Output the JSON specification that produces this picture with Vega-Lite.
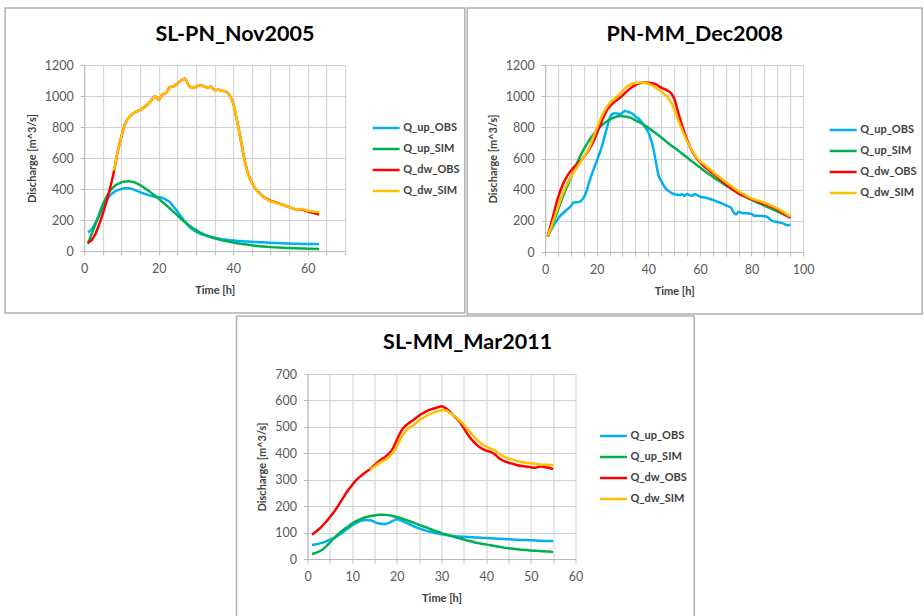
{
  "$schema": "https://vega.github.io/schema/vega-lite/v6.json",
  "background": "white",
  "padding": {"left": 4, "top": 7, "right": 0, "bottom": 0},
  "autosize": {"type": "pad"},
  "config": {
    "font": "Lato",
    "view": {"stroke": null},
    "axis": {"gridColor": "#d0d0d0", "gridWidth": 1, "domainColor": "#b8b8b8", "domainWidth": 1, "tickColor": "#b8b8b8", "tickSize": 4, "labelFont": "Lato", "labelFontSize": 12.5, "labelColor": "#595959", "titleFont": "Lato", "titleFontSize": 11, "titleFontWeight": "bold", "titleColor": "#404040", "labelOverlap": false},
    "axisX": {"labelPadding": 7, "titlePadding": 10, "labelFlush": false},
    "axisY": {"labelPadding": 7, "titlePadding": 7},
    "legend": {"orient": "none", "title": null, "padding": 0, "symbolType": "stroke", "symbolStrokeWidth": 2.5, "symbolSize": 729, "labelFont": "Lato", "labelFontSize": 11, "labelFontWeight": "bold", "labelColor": "#404040", "labelOffset": 2, "rowPadding": 1},
    "title": {"font": "Lato", "fontSize": 21.5, "fontWeight": "bold", "color": "#000000", "anchor": "middle", "frame": "bounds", "offset": -38},
    "line": {"strokeWidth": 2.5, "interpolate": "monotone"}
  },
  "datasets": {
    "p1": [
      {"s":"Q_up_OBS","t":1,"q":120},{"s":"Q_up_OBS","t":2,"q":140},{"s":"Q_up_OBS","t":3,"q":180},{"s":"Q_up_OBS","t":4,"q":225},{"s":"Q_up_OBS","t":5,"q":280},{"s":"Q_up_OBS","t":6,"q":325},{"s":"Q_up_OBS","t":7,"q":360},{"s":"Q_up_OBS","t":8,"q":380},{"s":"Q_up_OBS","t":9,"q":393},{"s":"Q_up_OBS","t":10,"q":400},{"s":"Q_up_OBS","t":11,"q":405},{"s":"Q_up_OBS","t":12,"q":405},{"s":"Q_up_OBS","t":13,"q":398},{"s":"Q_up_OBS","t":14,"q":390},{"s":"Q_up_OBS","t":15,"q":380},{"s":"Q_up_OBS","t":16,"q":370},{"s":"Q_up_OBS","t":17,"q":363},{"s":"Q_up_OBS","t":18,"q":356},{"s":"Q_up_OBS","t":19,"q":350},{"s":"Q_up_OBS","t":20,"q":347},{"s":"Q_up_OBS","t":21,"q":342},{"s":"Q_up_OBS","t":22,"q":330},{"s":"Q_up_OBS","t":23,"q":315},{"s":"Q_up_OBS","t":24,"q":285},{"s":"Q_up_OBS","t":25,"q":255},{"s":"Q_up_OBS","t":26,"q":222},{"s":"Q_up_OBS","t":27,"q":190},{"s":"Q_up_OBS","t":28,"q":162},{"s":"Q_up_OBS","t":29,"q":140},{"s":"Q_up_OBS","t":30,"q":124},{"s":"Q_up_OBS","t":31,"q":113},{"s":"Q_up_OBS","t":32,"q":104},{"s":"Q_up_OBS","t":33,"q":97},{"s":"Q_up_OBS","t":34,"q":90},{"s":"Q_up_OBS","t":35,"q":85},{"s":"Q_up_OBS","t":36,"q":80},{"s":"Q_up_OBS","t":37,"q":76},{"s":"Q_up_OBS","t":38,"q":73},{"s":"Q_up_OBS","t":39,"q":70},{"s":"Q_up_OBS","t":40,"q":68},{"s":"Q_up_OBS","t":42,"q":64},{"s":"Q_up_OBS","t":44,"q":61},{"s":"Q_up_OBS","t":46,"q":58},{"s":"Q_up_OBS","t":48,"q":56},{"s":"Q_up_OBS","t":50,"q":53},{"s":"Q_up_OBS","t":52,"q":51},{"s":"Q_up_OBS","t":54,"q":49},{"s":"Q_up_OBS","t":56,"q":47},{"s":"Q_up_OBS","t":58,"q":46},{"s":"Q_up_OBS","t":60,"q":45},{"s":"Q_up_OBS","t":63,"q":44},
      {"s":"Q_up_SIM","t":1,"q":45},{"s":"Q_up_SIM","t":2,"q":110},{"s":"Q_up_SIM","t":3,"q":170},{"s":"Q_up_SIM","t":4,"q":235},{"s":"Q_up_SIM","t":5,"q":300},{"s":"Q_up_SIM","t":6,"q":350},{"s":"Q_up_SIM","t":7,"q":390},{"s":"Q_up_SIM","t":8,"q":415},{"s":"Q_up_SIM","t":9,"q":432},{"s":"Q_up_SIM","t":10,"q":443},{"s":"Q_up_SIM","t":11,"q":448},{"s":"Q_up_SIM","t":12,"q":450},{"s":"Q_up_SIM","t":13,"q":446},{"s":"Q_up_SIM","t":14,"q":438},{"s":"Q_up_SIM","t":15,"q":425},{"s":"Q_up_SIM","t":16,"q":410},{"s":"Q_up_SIM","t":17,"q":393},{"s":"Q_up_SIM","t":18,"q":375},{"s":"Q_up_SIM","t":19,"q":356},{"s":"Q_up_SIM","t":20,"q":337},{"s":"Q_up_SIM","t":21,"q":316},{"s":"Q_up_SIM","t":22,"q":295},{"s":"Q_up_SIM","t":23,"q":274},{"s":"Q_up_SIM","t":24,"q":252},{"s":"Q_up_SIM","t":25,"q":230},{"s":"Q_up_SIM","t":26,"q":208},{"s":"Q_up_SIM","t":27,"q":187},{"s":"Q_up_SIM","t":28,"q":167},{"s":"Q_up_SIM","t":29,"q":150},{"s":"Q_up_SIM","t":30,"q":135},{"s":"Q_up_SIM","t":31,"q":121},{"s":"Q_up_SIM","t":32,"q":109},{"s":"Q_up_SIM","t":33,"q":99},{"s":"Q_up_SIM","t":34,"q":90},{"s":"Q_up_SIM","t":35,"q":82},{"s":"Q_up_SIM","t":36,"q":75},{"s":"Q_up_SIM","t":37,"q":69},{"s":"Q_up_SIM","t":38,"q":64},{"s":"Q_up_SIM","t":39,"q":59},{"s":"Q_up_SIM","t":40,"q":55},{"s":"Q_up_SIM","t":42,"q":47},{"s":"Q_up_SIM","t":44,"q":40},{"s":"Q_up_SIM","t":46,"q":34},{"s":"Q_up_SIM","t":48,"q":29},{"s":"Q_up_SIM","t":50,"q":25},{"s":"Q_up_SIM","t":52,"q":22},{"s":"Q_up_SIM","t":54,"q":20},{"s":"Q_up_SIM","t":56,"q":18},{"s":"Q_up_SIM","t":58,"q":16},{"s":"Q_up_SIM","t":60,"q":15},{"s":"Q_up_SIM","t":63,"q":13},
      {"s":"Q_dw_OBS","t":1,"q":55},{"s":"Q_dw_OBS","t":2,"q":70},{"s":"Q_dw_OBS","t":3,"q":110},{"s":"Q_dw_OBS","t":4,"q":170},{"s":"Q_dw_OBS","t":5,"q":240},{"s":"Q_dw_OBS","t":6,"q":320},{"s":"Q_dw_OBS","t":7,"q":410},{"s":"Q_dw_OBS","t":8,"q":515},{"s":"Q_dw_OBS","t":9,"q":640},{"s":"Q_dw_OBS","t":10,"q":740},{"s":"Q_dw_OBS","t":11,"q":822},{"s":"Q_dw_OBS","t":12,"q":862},{"s":"Q_dw_OBS","t":13,"q":885},{"s":"Q_dw_OBS","t":14,"q":900},{"s":"Q_dw_OBS","t":15,"q":910},{"s":"Q_dw_OBS","t":16,"q":925},{"s":"Q_dw_OBS","t":17,"q":945},{"s":"Q_dw_OBS","t":18,"q":970},{"s":"Q_dw_OBS","t":19,"q":1000},{"s":"Q_dw_OBS","t":20,"q":975},{"s":"Q_dw_OBS","t":21,"q":1010},{"s":"Q_dw_OBS","t":22,"q":1020},{"s":"Q_dw_OBS","t":23,"q":1058},{"s":"Q_dw_OBS","t":24,"q":1062},{"s":"Q_dw_OBS","t":25,"q":1080},{"s":"Q_dw_OBS","t":26,"q":1100},{"s":"Q_dw_OBS","t":27,"q":1112},{"s":"Q_dw_OBS","t":28,"q":1070},{"s":"Q_dw_OBS","t":29,"q":1052},{"s":"Q_dw_OBS","t":30,"q":1060},{"s":"Q_dw_OBS","t":31,"q":1068},{"s":"Q_dw_OBS","t":32,"q":1065},{"s":"Q_dw_OBS","t":33,"q":1055},{"s":"Q_dw_OBS","t":34,"q":1060},{"s":"Q_dw_OBS","t":35,"q":1038},{"s":"Q_dw_OBS","t":36,"q":1040},{"s":"Q_dw_OBS","t":37,"q":1033},{"s":"Q_dw_OBS","t":38,"q":1030},{"s":"Q_dw_OBS","t":39,"q":1005},{"s":"Q_dw_OBS","t":40,"q":950},{"s":"Q_dw_OBS","t":41,"q":840},{"s":"Q_dw_OBS","t":42,"q":720},{"s":"Q_dw_OBS","t":43,"q":590},{"s":"Q_dw_OBS","t":44,"q":495},{"s":"Q_dw_OBS","t":45,"q":440},{"s":"Q_dw_OBS","t":46,"q":400},{"s":"Q_dw_OBS","t":47,"q":374},{"s":"Q_dw_OBS","t":48,"q":352},{"s":"Q_dw_OBS","t":49,"q":336},{"s":"Q_dw_OBS","t":50,"q":324},{"s":"Q_dw_OBS","t":51,"q":316},{"s":"Q_dw_OBS","t":52,"q":308},{"s":"Q_dw_OBS","t":53,"q":300},{"s":"Q_dw_OBS","t":54,"q":292},{"s":"Q_dw_OBS","t":55,"q":284},{"s":"Q_dw_OBS","t":56,"q":275},{"s":"Q_dw_OBS","t":57,"q":265},{"s":"Q_dw_OBS","t":58,"q":270},{"s":"Q_dw_OBS","t":59,"q":264},{"s":"Q_dw_OBS","t":60,"q":255},{"s":"Q_dw_OBS","t":61,"q":248},{"s":"Q_dw_OBS","t":62,"q":242},{"s":"Q_dw_OBS","t":63,"q":236},
      {"s":"Q_dw_SIM","t":8,"q":520},{"s":"Q_dw_SIM","t":9,"q":640},{"s":"Q_dw_SIM","t":10,"q":740},{"s":"Q_dw_SIM","t":11,"q":820},{"s":"Q_dw_SIM","t":12,"q":860},{"s":"Q_dw_SIM","t":13,"q":885},{"s":"Q_dw_SIM","t":14,"q":900},{"s":"Q_dw_SIM","t":15,"q":910},{"s":"Q_dw_SIM","t":16,"q":925},{"s":"Q_dw_SIM","t":17,"q":945},{"s":"Q_dw_SIM","t":18,"q":970},{"s":"Q_dw_SIM","t":19,"q":1000},{"s":"Q_dw_SIM","t":20,"q":975},{"s":"Q_dw_SIM","t":21,"q":1010},{"s":"Q_dw_SIM","t":22,"q":1020},{"s":"Q_dw_SIM","t":23,"q":1058},{"s":"Q_dw_SIM","t":24,"q":1062},{"s":"Q_dw_SIM","t":25,"q":1080},{"s":"Q_dw_SIM","t":26,"q":1100},{"s":"Q_dw_SIM","t":27,"q":1112},{"s":"Q_dw_SIM","t":28,"q":1070},{"s":"Q_dw_SIM","t":29,"q":1052},{"s":"Q_dw_SIM","t":30,"q":1060},{"s":"Q_dw_SIM","t":31,"q":1068},{"s":"Q_dw_SIM","t":32,"q":1065},{"s":"Q_dw_SIM","t":33,"q":1055},{"s":"Q_dw_SIM","t":34,"q":1060},{"s":"Q_dw_SIM","t":35,"q":1038},{"s":"Q_dw_SIM","t":36,"q":1040},{"s":"Q_dw_SIM","t":37,"q":1033},{"s":"Q_dw_SIM","t":38,"q":1030},{"s":"Q_dw_SIM","t":39,"q":1005},{"s":"Q_dw_SIM","t":40,"q":950},{"s":"Q_dw_SIM","t":41,"q":840},{"s":"Q_dw_SIM","t":42,"q":720},{"s":"Q_dw_SIM","t":43,"q":590},{"s":"Q_dw_SIM","t":44,"q":495},{"s":"Q_dw_SIM","t":45,"q":440},{"s":"Q_dw_SIM","t":46,"q":400},{"s":"Q_dw_SIM","t":47,"q":372},{"s":"Q_dw_SIM","t":48,"q":350},{"s":"Q_dw_SIM","t":49,"q":333},{"s":"Q_dw_SIM","t":50,"q":320},{"s":"Q_dw_SIM","t":51,"q":313},{"s":"Q_dw_SIM","t":52,"q":305},{"s":"Q_dw_SIM","t":53,"q":298},{"s":"Q_dw_SIM","t":54,"q":292},{"s":"Q_dw_SIM","t":55,"q":284},{"s":"Q_dw_SIM","t":56,"q":275},{"s":"Q_dw_SIM","t":57,"q":265},{"s":"Q_dw_SIM","t":58,"q":272},{"s":"Q_dw_SIM","t":59,"q":268},{"s":"Q_dw_SIM","t":60,"q":260},{"s":"Q_dw_SIM","t":61,"q":256},{"s":"Q_dw_SIM","t":62,"q":253},{"s":"Q_dw_SIM","t":63,"q":250}
    ],
    "p2": [
      {"s":"Q_up_OBS","t":1,"q":100},{"s":"Q_up_OBS","t":2,"q":135},{"s":"Q_up_OBS","t":4,"q":190},{"s":"Q_up_OBS","t":6,"q":235},{"s":"Q_up_OBS","t":8,"q":265},{"s":"Q_up_OBS","t":10,"q":295},{"s":"Q_up_OBS","t":11,"q":317},{"s":"Q_up_OBS","t":13,"q":320},{"s":"Q_up_OBS","t":14,"q":330},{"s":"Q_up_OBS","t":15,"q":350},{"s":"Q_up_OBS","t":16,"q":390},{"s":"Q_up_OBS","t":17,"q":445},{"s":"Q_up_OBS","t":18,"q":495},{"s":"Q_up_OBS","t":19,"q":540},{"s":"Q_up_OBS","t":20,"q":585},{"s":"Q_up_OBS","t":21,"q":630},{"s":"Q_up_OBS","t":22,"q":680},{"s":"Q_up_OBS","t":23,"q":740},{"s":"Q_up_OBS","t":24,"q":800},{"s":"Q_up_OBS","t":25,"q":860},{"s":"Q_up_OBS","t":26,"q":885},{"s":"Q_up_OBS","t":27,"q":890},{"s":"Q_up_OBS","t":28,"q":888},{"s":"Q_up_OBS","t":29,"q":885},{"s":"Q_up_OBS","t":30,"q":895},{"s":"Q_up_OBS","t":31,"q":905},{"s":"Q_up_OBS","t":32,"q":900},{"s":"Q_up_OBS","t":33,"q":895},{"s":"Q_up_OBS","t":34,"q":885},{"s":"Q_up_OBS","t":35,"q":870},{"s":"Q_up_OBS","t":36,"q":858},{"s":"Q_up_OBS","t":37,"q":842},{"s":"Q_up_OBS","t":38,"q":820},{"s":"Q_up_OBS","t":39,"q":795},{"s":"Q_up_OBS","t":40,"q":768},{"s":"Q_up_OBS","t":41,"q":720},{"s":"Q_up_OBS","t":42,"q":660},{"s":"Q_up_OBS","t":43,"q":570},{"s":"Q_up_OBS","t":44,"q":490},{"s":"Q_up_OBS","t":45,"q":455},{"s":"Q_up_OBS","t":46,"q":425},{"s":"Q_up_OBS","t":47,"q":402},{"s":"Q_up_OBS","t":48,"q":390},{"s":"Q_up_OBS","t":49,"q":378},{"s":"Q_up_OBS","t":50,"q":372},{"s":"Q_up_OBS","t":51,"q":368},{"s":"Q_up_OBS","t":52,"q":365},{"s":"Q_up_OBS","t":53,"q":370},{"s":"Q_up_OBS","t":54,"q":360},{"s":"Q_up_OBS","t":55,"q":372},{"s":"Q_up_OBS","t":56,"q":365},{"s":"Q_up_OBS","t":57,"q":360},{"s":"Q_up_OBS","t":58,"q":372},{"s":"Q_up_OBS","t":59,"q":365},{"s":"Q_up_OBS","t":60,"q":355},{"s":"Q_up_OBS","t":62,"q":350},{"s":"Q_up_OBS","t":64,"q":340},{"s":"Q_up_OBS","t":66,"q":328},{"s":"Q_up_OBS","t":68,"q":315},{"s":"Q_up_OBS","t":70,"q":300},{"s":"Q_up_OBS","t":72,"q":285},{"s":"Q_up_OBS","t":73,"q":255},{"s":"Q_up_OBS","t":74,"q":240},{"s":"Q_up_OBS","t":75,"q":258},{"s":"Q_up_OBS","t":76,"q":252},{"s":"Q_up_OBS","t":78,"q":248},{"s":"Q_up_OBS","t":80,"q":245},{"s":"Q_up_OBS","t":81,"q":232},{"s":"Q_up_OBS","t":83,"q":233},{"s":"Q_up_OBS","t":85,"q":230},{"s":"Q_up_OBS","t":86,"q":225},{"s":"Q_up_OBS","t":88,"q":200},{"s":"Q_up_OBS","t":90,"q":192},{"s":"Q_up_OBS","t":92,"q":185},{"s":"Q_up_OBS","t":94,"q":172},{"s":"Q_up_OBS","t":95,"q":175},
      {"s":"Q_up_SIM","t":1,"q":97},{"s":"Q_up_SIM","t":3,"q":180},{"s":"Q_up_SIM","t":5,"q":270},{"s":"Q_up_SIM","t":7,"q":360},{"s":"Q_up_SIM","t":9,"q":440},{"s":"Q_up_SIM","t":11,"q":520},{"s":"Q_up_SIM","t":13,"q":595},{"s":"Q_up_SIM","t":15,"q":660},{"s":"Q_up_SIM","t":17,"q":715},{"s":"Q_up_SIM","t":19,"q":760},{"s":"Q_up_SIM","t":21,"q":798},{"s":"Q_up_SIM","t":23,"q":828},{"s":"Q_up_SIM","t":25,"q":850},{"s":"Q_up_SIM","t":27,"q":865},{"s":"Q_up_SIM","t":29,"q":872},{"s":"Q_up_SIM","t":31,"q":870},{"s":"Q_up_SIM","t":33,"q":862},{"s":"Q_up_SIM","t":35,"q":845},{"s":"Q_up_SIM","t":37,"q":828},{"s":"Q_up_SIM","t":39,"q":808},{"s":"Q_up_SIM","t":41,"q":785},{"s":"Q_up_SIM","t":43,"q":760},{"s":"Q_up_SIM","t":45,"q":735},{"s":"Q_up_SIM","t":47,"q":708},{"s":"Q_up_SIM","t":49,"q":682},{"s":"Q_up_SIM","t":51,"q":658},{"s":"Q_up_SIM","t":53,"q":632},{"s":"Q_up_SIM","t":55,"q":606},{"s":"Q_up_SIM","t":57,"q":580},{"s":"Q_up_SIM","t":59,"q":555},{"s":"Q_up_SIM","t":61,"q":530},{"s":"Q_up_SIM","t":63,"q":506},{"s":"Q_up_SIM","t":65,"q":483},{"s":"Q_up_SIM","t":67,"q":460},{"s":"Q_up_SIM","t":69,"q":438},{"s":"Q_up_SIM","t":71,"q":417},{"s":"Q_up_SIM","t":73,"q":397},{"s":"Q_up_SIM","t":75,"q":378},{"s":"Q_up_SIM","t":77,"q":360},{"s":"Q_up_SIM","t":79,"q":343},{"s":"Q_up_SIM","t":81,"q":327},{"s":"Q_up_SIM","t":83,"q":312},{"s":"Q_up_SIM","t":85,"q":298},{"s":"Q_up_SIM","t":87,"q":283},{"s":"Q_up_SIM","t":89,"q":268},{"s":"Q_up_SIM","t":91,"q":252},{"s":"Q_up_SIM","t":93,"q":236},{"s":"Q_up_SIM","t":95,"q":220},
      {"s":"Q_dw_OBS","t":1,"q":100},{"s":"Q_dw_OBS","t":3,"q":225},{"s":"Q_dw_OBS","t":5,"q":350},{"s":"Q_dw_OBS","t":7,"q":440},{"s":"Q_dw_OBS","t":9,"q":500},{"s":"Q_dw_OBS","t":11,"q":541},{"s":"Q_dw_OBS","t":13,"q":575},{"s":"Q_dw_OBS","t":15,"q":610},{"s":"Q_dw_OBS","t":17,"q":655},{"s":"Q_dw_OBS","t":19,"q":720},{"s":"Q_dw_OBS","t":21,"q":800},{"s":"Q_dw_OBS","t":23,"q":880},{"s":"Q_dw_OBS","t":25,"q":935},{"s":"Q_dw_OBS","t":27,"q":965},{"s":"Q_dw_OBS","t":29,"q":990},{"s":"Q_dw_OBS","t":31,"q":1020},{"s":"Q_dw_OBS","t":33,"q":1050},{"s":"Q_dw_OBS","t":35,"q":1072},{"s":"Q_dw_OBS","t":37,"q":1085},{"s":"Q_dw_OBS","t":39,"q":1087},{"s":"Q_dw_OBS","t":41,"q":1085},{"s":"Q_dw_OBS","t":43,"q":1075},{"s":"Q_dw_OBS","t":45,"q":1055},{"s":"Q_dw_OBS","t":47,"q":1040},{"s":"Q_dw_OBS","t":49,"q":1015},{"s":"Q_dw_OBS","t":50,"q":985},{"s":"Q_dw_OBS","t":51,"q":930},{"s":"Q_dw_OBS","t":52,"q":870},{"s":"Q_dw_OBS","t":53,"q":815},{"s":"Q_dw_OBS","t":55,"q":720},{"s":"Q_dw_OBS","t":57,"q":645},{"s":"Q_dw_OBS","t":59,"q":595},{"s":"Q_dw_OBS","t":61,"q":560},{"s":"Q_dw_OBS","t":63,"q":530},{"s":"Q_dw_OBS","t":65,"q":505},{"s":"Q_dw_OBS","t":67,"q":478},{"s":"Q_dw_OBS","t":69,"q":450},{"s":"Q_dw_OBS","t":71,"q":422},{"s":"Q_dw_OBS","t":73,"q":398},{"s":"Q_dw_OBS","t":75,"q":375},{"s":"Q_dw_OBS","t":77,"q":358},{"s":"Q_dw_OBS","t":79,"q":345},{"s":"Q_dw_OBS","t":81,"q":335},{"s":"Q_dw_OBS","t":83,"q":320},{"s":"Q_dw_OBS","t":85,"q":308},{"s":"Q_dw_OBS","t":87,"q":295},{"s":"Q_dw_OBS","t":89,"q":282},{"s":"Q_dw_OBS","t":91,"q":262},{"s":"Q_dw_OBS","t":93,"q":242},{"s":"Q_dw_OBS","t":95,"q":220},
      {"s":"Q_dw_SIM","t":1,"q":100},{"s":"Q_dw_SIM","t":3,"q":190},{"s":"Q_dw_SIM","t":5,"q":290},{"s":"Q_dw_SIM","t":7,"q":380},{"s":"Q_dw_SIM","t":9,"q":455},{"s":"Q_dw_SIM","t":11,"q":510},{"s":"Q_dw_SIM","t":13,"q":560},{"s":"Q_dw_SIM","t":15,"q":610},{"s":"Q_dw_SIM","t":17,"q":665},{"s":"Q_dw_SIM","t":19,"q":750},{"s":"Q_dw_SIM","t":21,"q":835},{"s":"Q_dw_SIM","t":23,"q":905},{"s":"Q_dw_SIM","t":25,"q":955},{"s":"Q_dw_SIM","t":27,"q":985},{"s":"Q_dw_SIM","t":29,"q":1015},{"s":"Q_dw_SIM","t":31,"q":1050},{"s":"Q_dw_SIM","t":33,"q":1075},{"s":"Q_dw_SIM","t":35,"q":1085},{"s":"Q_dw_SIM","t":37,"q":1087},{"s":"Q_dw_SIM","t":39,"q":1085},{"s":"Q_dw_SIM","t":41,"q":1072},{"s":"Q_dw_SIM","t":43,"q":1055},{"s":"Q_dw_SIM","t":45,"q":1030},{"s":"Q_dw_SIM","t":47,"q":1000},{"s":"Q_dw_SIM","t":49,"q":955},{"s":"Q_dw_SIM","t":51,"q":870},{"s":"Q_dw_SIM","t":53,"q":787},{"s":"Q_dw_SIM","t":55,"q":712},{"s":"Q_dw_SIM","t":57,"q":650},{"s":"Q_dw_SIM","t":59,"q":600},{"s":"Q_dw_SIM","t":61,"q":570},{"s":"Q_dw_SIM","t":63,"q":542},{"s":"Q_dw_SIM","t":65,"q":515},{"s":"Q_dw_SIM","t":67,"q":488},{"s":"Q_dw_SIM","t":69,"q":462},{"s":"Q_dw_SIM","t":71,"q":437},{"s":"Q_dw_SIM","t":73,"q":413},{"s":"Q_dw_SIM","t":75,"q":390},{"s":"Q_dw_SIM","t":77,"q":370},{"s":"Q_dw_SIM","t":79,"q":352},{"s":"Q_dw_SIM","t":81,"q":338},{"s":"Q_dw_SIM","t":83,"q":328},{"s":"Q_dw_SIM","t":85,"q":316},{"s":"Q_dw_SIM","t":87,"q":302},{"s":"Q_dw_SIM","t":89,"q":288},{"s":"Q_dw_SIM","t":91,"q":270},{"s":"Q_dw_SIM","t":93,"q":250},{"s":"Q_dw_SIM","t":95,"q":228}
    ],
    "p3": [
      {"s":"Q_up_OBS","t":1,"q":53},{"s":"Q_up_OBS","t":2,"q":56},{"s":"Q_up_OBS","t":3,"q":60},{"s":"Q_up_OBS","t":4,"q":66},{"s":"Q_up_OBS","t":5,"q":73},{"s":"Q_up_OBS","t":6,"q":80},{"s":"Q_up_OBS","t":7,"q":90},{"s":"Q_up_OBS","t":8,"q":102},{"s":"Q_up_OBS","t":9,"q":115},{"s":"Q_up_OBS","t":10,"q":128},{"s":"Q_up_OBS","t":11,"q":138},{"s":"Q_up_OBS","t":12,"q":145},{"s":"Q_up_OBS","t":13,"q":148},{"s":"Q_up_OBS","t":14,"q":147},{"s":"Q_up_OBS","t":15,"q":140},{"s":"Q_up_OBS","t":16,"q":134},{"s":"Q_up_OBS","t":17,"q":132},{"s":"Q_up_OBS","t":18,"q":135},{"s":"Q_up_OBS","t":19,"q":143},{"s":"Q_up_OBS","t":20,"q":150},{"s":"Q_up_OBS","t":21,"q":145},{"s":"Q_up_OBS","t":22,"q":138},{"s":"Q_up_OBS","t":23,"q":130},{"s":"Q_up_OBS","t":24,"q":122},{"s":"Q_up_OBS","t":25,"q":116},{"s":"Q_up_OBS","t":26,"q":110},{"s":"Q_up_OBS","t":27,"q":105},{"s":"Q_up_OBS","t":28,"q":101},{"s":"Q_up_OBS","t":29,"q":97},{"s":"Q_up_OBS","t":30,"q":94},{"s":"Q_up_OBS","t":31,"q":91},{"s":"Q_up_OBS","t":32,"q":88},{"s":"Q_up_OBS","t":33,"q":86},{"s":"Q_up_OBS","t":34,"q":85},{"s":"Q_up_OBS","t":35,"q":84},{"s":"Q_up_OBS","t":36,"q":83},{"s":"Q_up_OBS","t":37,"q":82},{"s":"Q_up_OBS","t":38,"q":81},{"s":"Q_up_OBS","t":40,"q":79},{"s":"Q_up_OBS","t":42,"q":78},{"s":"Q_up_OBS","t":44,"q":76},{"s":"Q_up_OBS","t":46,"q":74},{"s":"Q_up_OBS","t":48,"q":72},{"s":"Q_up_OBS","t":50,"q":71},{"s":"Q_up_OBS","t":52,"q":69},{"s":"Q_up_OBS","t":54,"q":68},{"s":"Q_up_OBS","t":55,"q":68},
      {"s":"Q_up_SIM","t":1,"q":19},{"s":"Q_up_SIM","t":2,"q":24},{"s":"Q_up_SIM","t":3,"q":32},{"s":"Q_up_SIM","t":4,"q":45},{"s":"Q_up_SIM","t":5,"q":62},{"s":"Q_up_SIM","t":6,"q":80},{"s":"Q_up_SIM","t":7,"q":96},{"s":"Q_up_SIM","t":8,"q":110},{"s":"Q_up_SIM","t":9,"q":122},{"s":"Q_up_SIM","t":10,"q":134},{"s":"Q_up_SIM","t":11,"q":144},{"s":"Q_up_SIM","t":12,"q":152},{"s":"Q_up_SIM","t":13,"q":158},{"s":"Q_up_SIM","t":14,"q":162},{"s":"Q_up_SIM","t":15,"q":165},{"s":"Q_up_SIM","t":16,"q":167},{"s":"Q_up_SIM","t":17,"q":167},{"s":"Q_up_SIM","t":18,"q":166},{"s":"Q_up_SIM","t":19,"q":163},{"s":"Q_up_SIM","t":20,"q":159},{"s":"Q_up_SIM","t":21,"q":154},{"s":"Q_up_SIM","t":22,"q":148},{"s":"Q_up_SIM","t":23,"q":142},{"s":"Q_up_SIM","t":24,"q":136},{"s":"Q_up_SIM","t":25,"q":129},{"s":"Q_up_SIM","t":26,"q":123},{"s":"Q_up_SIM","t":27,"q":117},{"s":"Q_up_SIM","t":28,"q":110},{"s":"Q_up_SIM","t":29,"q":104},{"s":"Q_up_SIM","t":30,"q":98},{"s":"Q_up_SIM","t":31,"q":93},{"s":"Q_up_SIM","t":32,"q":88},{"s":"Q_up_SIM","t":33,"q":83},{"s":"Q_up_SIM","t":34,"q":78},{"s":"Q_up_SIM","t":35,"q":74},{"s":"Q_up_SIM","t":36,"q":69},{"s":"Q_up_SIM","t":37,"q":65},{"s":"Q_up_SIM","t":38,"q":61},{"s":"Q_up_SIM","t":39,"q":58},{"s":"Q_up_SIM","t":40,"q":55},{"s":"Q_up_SIM","t":41,"q":52},{"s":"Q_up_SIM","t":42,"q":49},{"s":"Q_up_SIM","t":43,"q":46},{"s":"Q_up_SIM","t":44,"q":43},{"s":"Q_up_SIM","t":45,"q":41},{"s":"Q_up_SIM","t":46,"q":39},{"s":"Q_up_SIM","t":47,"q":37},{"s":"Q_up_SIM","t":48,"q":35},{"s":"Q_up_SIM","t":49,"q":34},{"s":"Q_up_SIM","t":50,"q":32},{"s":"Q_up_SIM","t":51,"q":31},{"s":"Q_up_SIM","t":52,"q":30},{"s":"Q_up_SIM","t":53,"q":29},{"s":"Q_up_SIM","t":54,"q":28},{"s":"Q_up_SIM","t":55,"q":26},
      {"s":"Q_dw_OBS","t":1,"q":92},{"s":"Q_dw_OBS","t":2,"q":105},{"s":"Q_dw_OBS","t":3,"q":120},{"s":"Q_dw_OBS","t":4,"q":138},{"s":"Q_dw_OBS","t":5,"q":158},{"s":"Q_dw_OBS","t":6,"q":180},{"s":"Q_dw_OBS","t":7,"q":205},{"s":"Q_dw_OBS","t":8,"q":232},{"s":"Q_dw_OBS","t":9,"q":258},{"s":"Q_dw_OBS","t":10,"q":280},{"s":"Q_dw_OBS","t":11,"q":300},{"s":"Q_dw_OBS","t":12,"q":315},{"s":"Q_dw_OBS","t":13,"q":328},{"s":"Q_dw_OBS","t":14,"q":340},{"s":"Q_dw_OBS","t":15,"q":355},{"s":"Q_dw_OBS","t":16,"q":370},{"s":"Q_dw_OBS","t":17,"q":382},{"s":"Q_dw_OBS","t":18,"q":395},{"s":"Q_dw_OBS","t":19,"q":415},{"s":"Q_dw_OBS","t":20,"q":450},{"s":"Q_dw_OBS","t":21,"q":485},{"s":"Q_dw_OBS","t":22,"q":505},{"s":"Q_dw_OBS","t":23,"q":518},{"s":"Q_dw_OBS","t":24,"q":530},{"s":"Q_dw_OBS","t":25,"q":543},{"s":"Q_dw_OBS","t":26,"q":553},{"s":"Q_dw_OBS","t":27,"q":562},{"s":"Q_dw_OBS","t":28,"q":568},{"s":"Q_dw_OBS","t":29,"q":573},{"s":"Q_dw_OBS","t":30,"q":578},{"s":"Q_dw_OBS","t":31,"q":570},{"s":"Q_dw_OBS","t":32,"q":555},{"s":"Q_dw_OBS","t":33,"q":538},{"s":"Q_dw_OBS","t":34,"q":520},{"s":"Q_dw_OBS","t":35,"q":495},{"s":"Q_dw_OBS","t":36,"q":468},{"s":"Q_dw_OBS","t":37,"q":447},{"s":"Q_dw_OBS","t":38,"q":430},{"s":"Q_dw_OBS","t":39,"q":418},{"s":"Q_dw_OBS","t":40,"q":410},{"s":"Q_dw_OBS","t":41,"q":405},{"s":"Q_dw_OBS","t":42,"q":395},{"s":"Q_dw_OBS","t":43,"q":380},{"s":"Q_dw_OBS","t":44,"q":370},{"s":"Q_dw_OBS","t":45,"q":364},{"s":"Q_dw_OBS","t":46,"q":360},{"s":"Q_dw_OBS","t":47,"q":355},{"s":"Q_dw_OBS","t":48,"q":352},{"s":"Q_dw_OBS","t":49,"q":350},{"s":"Q_dw_OBS","t":50,"q":347},{"s":"Q_dw_OBS","t":51,"q":345},{"s":"Q_dw_OBS","t":52,"q":350},{"s":"Q_dw_OBS","t":53,"q":348},{"s":"Q_dw_OBS","t":54,"q":345},{"s":"Q_dw_OBS","t":55,"q":340},
      {"s":"Q_dw_SIM","t":14,"q":338},{"s":"Q_dw_SIM","t":15,"q":350},{"s":"Q_dw_SIM","t":16,"q":362},{"s":"Q_dw_SIM","t":17,"q":372},{"s":"Q_dw_SIM","t":18,"q":383},{"s":"Q_dw_SIM","t":19,"q":400},{"s":"Q_dw_SIM","t":20,"q":425},{"s":"Q_dw_SIM","t":21,"q":460},{"s":"Q_dw_SIM","t":22,"q":485},{"s":"Q_dw_SIM","t":23,"q":500},{"s":"Q_dw_SIM","t":24,"q":510},{"s":"Q_dw_SIM","t":25,"q":525},{"s":"Q_dw_SIM","t":26,"q":535},{"s":"Q_dw_SIM","t":27,"q":545},{"s":"Q_dw_SIM","t":28,"q":552},{"s":"Q_dw_SIM","t":29,"q":558},{"s":"Q_dw_SIM","t":30,"q":563},{"s":"Q_dw_SIM","t":31,"q":562},{"s":"Q_dw_SIM","t":32,"q":552},{"s":"Q_dw_SIM","t":33,"q":540},{"s":"Q_dw_SIM","t":34,"q":525},{"s":"Q_dw_SIM","t":35,"q":508},{"s":"Q_dw_SIM","t":36,"q":488},{"s":"Q_dw_SIM","t":37,"q":468},{"s":"Q_dw_SIM","t":38,"q":450},{"s":"Q_dw_SIM","t":39,"q":436},{"s":"Q_dw_SIM","t":40,"q":425},{"s":"Q_dw_SIM","t":41,"q":418},{"s":"Q_dw_SIM","t":42,"q":410},{"s":"Q_dw_SIM","t":43,"q":398},{"s":"Q_dw_SIM","t":44,"q":387},{"s":"Q_dw_SIM","t":45,"q":380},{"s":"Q_dw_SIM","t":46,"q":375},{"s":"Q_dw_SIM","t":47,"q":371},{"s":"Q_dw_SIM","t":48,"q":367},{"s":"Q_dw_SIM","t":49,"q":364},{"s":"Q_dw_SIM","t":50,"q":362},{"s":"Q_dw_SIM","t":51,"q":360},{"s":"Q_dw_SIM","t":52,"q":358},{"s":"Q_dw_SIM","t":53,"q":357},{"s":"Q_dw_SIM","t":54,"q":357},{"s":"Q_dw_SIM","t":55,"q":355}
    ]
  },
  "vconcat": [
    {
      "hconcat": [
        {
          "title": "SL-PN_Nov2005",
          "width": 261, "height": 186,
          "layer": [
            {
              "data": {"name": "p1"},
              "mark": {"type": "line"},
              "encoding": {
                "x": {"field": "t", "type": "quantitative", "title": "Time [h]", "scale": {"domain": [0, 70], "nice": false, "zero": false}, "axis": {"values": [0,5,10,15,20,25,30,35,40,45,50,55,60,65,70], "labelExpr": "datum.value % 20 === 0 ? datum.label : ''"}},
                "y": {"field": "q", "type": "quantitative", "title": "Discharge [m^3/s]", "scale": {"domain": [0, 1200], "nice": false}, "axis": {"values": [0,200,400,600,800,1000,1200], "format": "d"}},
                "color": {"field": "s", "type": "nominal", "sort": null, "scale": {"domain": ["Q_up_OBS","Q_up_SIM","Q_dw_OBS","Q_dw_SIM"], "range": ["#00b0f0","#00b050","#ff0000","#ffc000"]}, "legend": {"legendX": 287, "legendY": 48}}
              }
            },
            {
              "data": {"values": [{}]},
              "mark": {"type": "rect", "fill": "transparent", "stroke": "#b0b0b0", "strokeWidth": 1.5, "clip": false},
              "encoding": {
                "x": {"datum": -21.2, "type": "quantitative", "title": "Time [h]", "scale": {"domain": [0, 70], "nice": false, "zero": false}, "axis": {"values": [0,5,10,15,20,25,30,35,40,45,50,55,60,65,70], "labelExpr": "datum.value % 20 === 0 ? datum.label : ''"}},
                "x2": {"datum": 102.1},
                "y": {"datum": 1568, "type": "quantitative", "title": "Discharge [m^3/s]", "scale": {"domain": [0, 1200], "nice": false}, "axis": {"values": [0,200,400,600,800,1000,1200], "format": "d"}},
                "y2": {"datum": -400}
              }
            }
          ]
        },
        {
          "title": "PN-MM_Dec2008",
          "width": 258, "height": 187,
          "layer": [
            {
              "data": {"name": "p2"},
              "mark": {"type": "line"},
              "encoding": {
                "x": {"field": "t", "type": "quantitative", "title": "Time [h]", "scale": {"domain": [0, 100], "nice": false, "zero": false}, "axis": {"values": [0,5,10,15,20,25,30,35,40,45,50,55,60,65,70,75,80,85,90,95,100], "labelExpr": "datum.value % 20 === 0 ? datum.label : ''"}},
                "y": {"field": "q", "type": "quantitative", "title": "Discharge [m^3/s]", "scale": {"domain": [0, 1200], "nice": false}, "axis": {"values": [0,200,400,600,800,1000,1200], "format": "d"}},
                "color": {"field": "s", "type": "nominal", "sort": null, "scale": {"domain": ["Q_up_OBS","Q_up_SIM","Q_dw_OBS","Q_dw_SIM"], "range": ["#00b0f0","#00b050","#ff0000","#ffc000"]}, "legend": {"legendX": 283, "legendY": 50}}
              }
            },
            {
              "data": {"values": [{}]},
              "mark": {"type": "rect", "fill": "transparent", "stroke": "#b0b0b0", "strokeWidth": 1.5, "clip": false},
              "encoding": {
                "x": {"datum": -30.2, "type": "quantitative", "title": "Time [h]", "scale": {"domain": [0, 100], "nice": false, "zero": false}, "axis": {"values": [0,5,10,15,20,25,30,35,40,45,50,55,60,65,70,75,80,85,90,95,100], "labelExpr": "datum.value % 20 === 0 ? datum.label : ''"}},
                "x2": {"datum": 146.1},
                "y": {"datum": 1566, "type": "quantitative", "title": "Discharge [m^3/s]", "scale": {"domain": [0, 1200], "nice": false}, "axis": {"values": [0,200,400,600,800,1000,1200], "format": "d"}},
                "y2": {"datum": -398}
              }
            }
          ]
        }
      ],
      "spacing": 0,
      "resolve": {"scale": {"x": "independent", "y": "independent", "color": "independent"}, "legend": {"color": "independent"}, "axis": {"x": "independent", "y": "independent"}}
    },
    {
      "title": "SL-MM_Mar2011",
      "width": 268, "height": 185,
      "layer": [
        {
          "data": {"name": "p3"},
          "mark": {"type": "line"},
          "encoding": {
            "x": {"field": "t", "type": "quantitative", "title": "Time [h]", "scale": {"domain": [0, 60], "nice": false, "zero": false}, "axis": {"values": [0,5,10,15,20,25,30,35,40,45,50,55,60], "labelExpr": "datum.value % 10 === 0 ? datum.label : ''"}},
            "y": {"field": "q", "type": "quantitative", "title": "Discharge [m^3/s]", "scale": {"domain": [0, 700], "nice": false}, "axis": {"values": [0,100,200,300,400,500,600,700], "format": "d"}},
            "color": {"field": "s", "type": "nominal", "sort": null, "scale": {"domain": ["Q_up_OBS","Q_up_SIM","Q_dw_OBS","Q_dw_SIM"], "range": ["#00b0f0","#00b050","#ff0000","#ffc000"]}, "legend": {"legendX": 279, "legendY": 35, "padding": 12, "fillColor": "transparent"}}
          }
        },
        {
          "data": {"values": [{}]},
          "mark": {"type": "rule", "stroke": "#b0b0b0", "strokeWidth": 1.5, "clip": false},
          "encoding": {
            "x": {"datum": -15.9, "type": "quantitative", "title": "Time [h]", "scale": {"domain": [0, 60], "nice": false, "zero": false}, "axis": {"values": [0,5,10,15,20,25,30,35,40,45,50,55,60], "labelExpr": "datum.value % 10 === 0 ? datum.label : ''"}},
            "x2": {"datum": 86.6},
            "y": {"datum": 919, "type": "quantitative", "title": "Discharge [m^3/s]", "scale": {"domain": [0, 700], "nice": false}, "axis": {"values": [0,100,200,300,400,500,600,700], "format": "d"}}
          }
        },
        {
          "data": {"values": [{}]},
          "mark": {"type": "rule", "stroke": "#b0b0b0", "strokeWidth": 1.5, "clip": false},
          "encoding": {
            "x": {"datum": -15.9, "type": "quantitative", "title": "Time [h]", "scale": {"domain": [0, 60], "nice": false, "zero": false}, "axis": {"values": [0,5,10,15,20,25,30,35,40,45,50,55,60], "labelExpr": "datum.value % 10 === 0 ? datum.label : ''"}},
            "y": {"datum": 919, "type": "quantitative", "title": "Discharge [m^3/s]", "scale": {"domain": [0, 700], "nice": false}, "axis": {"values": [0,100,200,300,400,500,600,700], "format": "d"}},
            "y2": {"datum": -219}
          }
        },
        {
          "data": {"values": [{}]},
          "mark": {"type": "rule", "stroke": "#b0b0b0", "strokeWidth": 1.5, "clip": false},
          "encoding": {
            "x": {"datum": 86.6, "type": "quantitative", "title": "Time [h]", "scale": {"domain": [0, 60], "nice": false, "zero": false}, "axis": {"values": [0,5,10,15,20,25,30,35,40,45,50,55,60], "labelExpr": "datum.value % 10 === 0 ? datum.label : ''"}},
            "y": {"datum": 919, "type": "quantitative", "title": "Discharge [m^3/s]", "scale": {"domain": [0, 700], "nice": false}, "axis": {"values": [0,100,200,300,400,500,600,700], "format": "d"}},
            "y2": {"datum": -219}
          }
        }
      ]
    }
  ],
  "spacing": 0,
  "center": true,
  "resolve": {"scale": {"x": "independent", "y": "independent", "color": "independent"}, "legend": {"color": "independent"}, "axis": {"x": "independent", "y": "independent"}}
}
